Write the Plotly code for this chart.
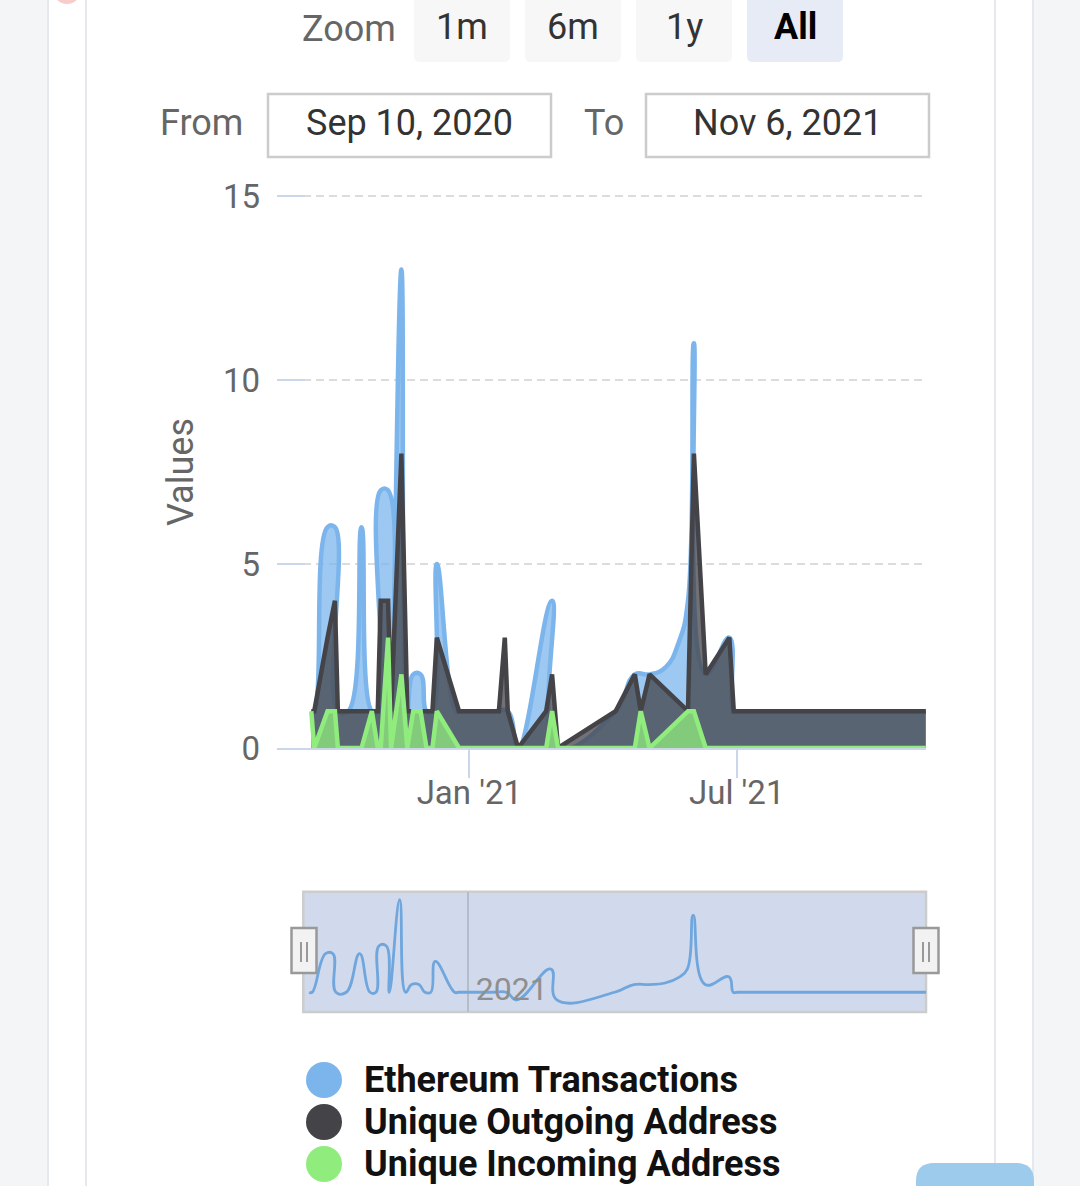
import plotly.graph_objects as go

W, H = 1080, 1186

# outgoing / incoming address counts (straight line areas)
dates = ["2020-09-16", "2020-09-18", "2020-09-27", "2020-10-02", "2020-10-04",
         "2020-10-11", "2020-10-20", "2020-10-27", "2020-10-31", "2020-11-02",
         "2020-11-07", "2020-11-09", "2020-11-16", "2020-11-20", "2020-11-24",
         "2020-11-29", "2020-12-03", "2020-12-07", "2020-12-10", "2020-12-25",
         "2021-01-21", "2021-01-25", "2021-01-27", "2021-02-03", "2021-02-22",
         "2021-02-26", "2021-03-02", "2021-04-10", "2021-04-23", "2021-04-27",
         "2021-05-03", "2021-05-29", "2021-06-02", "2021-06-10", "2021-06-26",
         "2021-06-29", "2021-11-06"]
out_addr = [1, 1, 3, 4, 1, 1, 1, 1, 1, 4, 4, 1, 8, 1, 1, 1, 1, 1, 3, 1,
            1, 3, 1, 0, 1, 2, 0, 1, 2, 1, 2, 1, 8, 2, 3, 1, 1]
in_addr = [1, 0, 1, 1, 0, 0, 0, 1, 0, 0, 3, 0, 2, 0, 1, 1, 0, 0, 1, 0,
           0, 0, 0, 0, 0, 1, 0, 0, 0, 1, 0, 1, 1, 0, 0, 0, 0]

# ethereum transactions (smoothed area)
eth_dates = ["2020-09-16", "2020-09-18", "2020-09-27", "2020-10-02", "2020-10-04",
             "2020-10-11", "2020-10-20", "2020-10-27", "2020-10-31", "2020-11-02",
             "2020-11-07", "2020-11-09", "2020-11-16", "2020-11-20", "2020-11-24",
             "2020-11-29", "2020-12-03", "2020-12-07", "2020-12-10", "2020-12-23",
             "2020-12-26", "2021-01-18", "2021-01-27", "2021-02-03", "2021-02-26",
             "2021-03-02", "2021-04-10", "2021-04-23", "2021-05-03", "2021-05-14",
             "2021-05-23", "2021-05-29", "2021-06-02", "2021-06-10", "2021-06-26",
             "2021-06-29", "2021-07-02", "2021-11-03", "2021-11-06"]
eth_tx = [1, 1, 6, 6, 1, 1, 6, 1, 1, 7, 7, 1, 13, 1, 2, 2, 1, 1, 5, 1,
          1, 1, 1, 0, 4, 0, 1, 2, 2, 2.2, 2.9, 4, 11, 2, 3, 1, 1, 1, 1]

series_names = ["Ethereum Transactions", "Unique Outgoing Address", "Unique Incoming Address"]
series_colors = ["#7cb5ec", "#434348", "#90ed7d"]
fill_colors = ["rgba(124,181,236,0.75)", "rgba(67,67,72,0.75)", "rgba(144,237,125,0.75)"]

zoom_buttons = ["1m", "6m", "1y", "All"]
date_from, date_to = "Sep 10, 2020", "Nov 6, 2021"
y_ticks = [0, 5, 10, 15]
x_tick_vals = ["2021-01-01", "2021-07-01"]
x_tick_text = ["Jan '21", "Jul '21"]

FONT = "Roboto"


def px(x):
    return x / W


def py(y):
    return 1 - y / H


def rounded(x0, y0, x1, y1, r):
    # rounded rect path in paper units (built from pixel coords)
    rx, ry = r / W, r / H
    a, b, c, d = px(x0), py(y0), px(x1), py(y1)
    return (f"M{a + rx},{b} L{c - rx},{b} Q{c},{b} {c},{b - ry} "
            f"L{c},{d + ry} Q{c},{d} {c - rx},{d} L{a + rx},{d} "
            f"Q{a},{d} {a},{d + ry} L{a},{b - ry} Q{a},{b} {a + rx},{b} Z")


fig = go.Figure()

fig.add_trace(go.Scatter(
    x=eth_dates, y=eth_tx, name=series_names[0], mode="lines",
    line=dict(color=series_colors[0], width=4.5, shape="spline", smoothing=1.3),
    fill="tozeroy", fillcolor=fill_colors[0], showlegend=False, hoverinfo="skip"))
for i, vals in [(1, out_addr), (2, in_addr)]:
    fig.add_trace(go.Scatter(
        x=dates, y=vals, name=series_names[i], mode="lines",
        line=dict(color=series_colors[i], width=4.5),
        fill="tozeroy", fillcolor=fill_colors[i], showlegend=False, hoverinfo="skip"))

# navigator
fig.add_trace(go.Scatter(
    x=eth_dates, y=eth_tx, mode="lines", xaxis="x2", yaxis="y2",
    line=dict(color="#6fa6dd", width=2.8, shape="spline", smoothing=1.3),
    showlegend=False, hoverinfo="skip"))

shapes = []
# page card
shapes.append(dict(type="rect", xref="paper", yref="paper", x0=px(48), x1=px(1033),
                   y0=py(1220), y1=py(-20), fillcolor="white", line_width=0, layer="below"))
for xl in [48, 86, 995, 1033]:
    shapes.append(dict(type="line", xref="paper", yref="paper", x0=px(xl), x1=px(xl),
                       y0=py(1220), y1=py(-20), line=dict(color="#e5e9ef", width=2), layer="below"))
shapes.append(dict(type="circle", xref="paper", yref="paper", x0=px(53), x1=px(81),
                   y0=py(4), y1=py(-24), fillcolor="#f9cccc", line_width=0))

# zoom buttons
for i, lab in enumerate(zoom_buttons):
    x0 = 414 + i * 111
    shapes.append(dict(type="path", xref="paper", yref="paper",
                       path=rounded(x0, -10, x0 + 96, 62, 6),
                       fillcolor="#e6ebf5" if lab == "All" else "#f7f7f7", line_width=0))

# date inputs
for x0 in [268, 646]:
    shapes.append(dict(type="rect", xref="paper", yref="paper", x0=px(x0), x1=px(x0 + 283),
                       y0=py(157), y1=py(94), fillcolor="white",
                       line=dict(color="#cccccc", width=2.5)))

# navigator background
shapes.append(dict(type="rect", xref="paper", yref="paper", x0=px(303.3), x1=px(926),
                   y0=py(1012), y1=py(891.7), fillcolor="rgba(102,133,194,0.3)",
                   line=dict(color="#cccccc", width=2.5), layer="below"))
for cx in [304, 926]:
    shapes.append(dict(type="rect", xref="paper", yref="paper", x0=px(cx - 12.5), x1=px(cx + 12.5),
                       y0=py(973), y1=py(928), fillcolor="#f2f2f2",
                       line=dict(color="#999999", width=2.5)))
    for dx in [-3, 3]:
        shapes.append(dict(type="line", xref="paper", yref="paper", x0=px(cx + dx), x1=px(cx + dx),
                           y0=py(962), y1=py(942), line=dict(color="#999999", width=2)))

# legend markers
for i, c in enumerate(series_colors):
    cy = 1080 + i * 42
    shapes.append(dict(type="circle", xref="paper", yref="paper", x0=px(306), x1=px(342),
                       y0=py(cy + 18), y1=py(cy - 18), fillcolor=c, line_width=0))

# bottom-right button stub
shapes.append(dict(type="path", xref="paper", yref="paper",
                   path=rounded(916, 1163, 1034, 1230, 18), fillcolor="#9ccbec", line_width=0))

ann = []
ann.append(dict(text="Zoom", x=px(398), y=py(29.5), xanchor="right", yanchor="middle",
                font=dict(family=FONT, size=36, color="#666666")))
for i, lab in enumerate(zoom_buttons):
    ann.append(dict(text=f"<b>{lab}</b>" if lab == "All" else lab,
                    x=px(462 + i * 111), y=py(27), xanchor="center", yanchor="middle",
                    font=dict(family=FONT, size=36, color="#000000" if lab == "All" else "#333333")))
ann.append(dict(text="From", x=px(245), y=py(123), xanchor="right", yanchor="middle",
                font=dict(family=FONT, size=36, color="#666666")))
ann.append(dict(text="To", x=px(626), y=py(123), xanchor="right", yanchor="middle",
                font=dict(family=FONT, size=36, color="#666666")))
ann.append(dict(text=date_from, x=px(409.5), y=py(122.5), xanchor="center", yanchor="middle",
                font=dict(family=FONT, size=36, color="#333333")))
ann.append(dict(text=date_to, x=px(787.5), y=py(122.5), xanchor="center", yanchor="middle",
                font=dict(family=FONT, size=36, color="#333333")))
ann.append(dict(text="Values", x=px(181), y=py(472), xanchor="center", yanchor="middle",
                textangle=-90, font=dict(family=FONT, size=36, color="#666666")))
for i, name in enumerate(series_names):
    ann.append(dict(text=f"<b>{name}</b>", x=px(362), y=py(1080 + i * 42), xanchor="left",
                    yanchor="middle", font=dict(family=FONT, size=36, color="#111111")))
for a in ann:
    a.update(xref="paper", yref="paper", showarrow=False)

fig.update_layout(
    width=W, height=H,
    margin=dict(l=0, r=0, t=0, b=0, autoexpand=False),
    paper_bgcolor="#f4f5f7",
    plot_bgcolor="rgba(0,0,0,0)",
    font=dict(family=FONT),
    shapes=shapes,
    annotations=ann,
    xaxis=dict(domain=[px(277), px(926)], type="date", automargin=False,
               range=["2020-08-23 19:00", "2021-11-06 03:00"],
               tickvals=x_tick_vals, ticktext=x_tick_text,
               ticks="outside", ticklen=28, tickwidth=2, tickcolor="#ccd6eb",
               ticklabelstandoff=-14,
               showline=True, linecolor="#ccd6eb", linewidth=2,
               showgrid=False, zeroline=False, fixedrange=True,
               tickfont=dict(family=FONT, size=33, color="#666666")),
    yaxis=dict(domain=[py(748), py(192.3)], range=[0, 15.1], automargin=False,
               tickvals=y_ticks, ticks="inside", ticklen=28, tickwidth=2, tickcolor="#ccd6eb",
               showgrid=True, gridcolor="#dcdcdc", gridwidth=2, griddash="8px,5px",
               zeroline=False, showline=False, fixedrange=True, ticklabelstandoff=16,
               tickfont=dict(family=FONT, size=33, color="#666666")),
    xaxis2=dict(domain=[px(303.3), px(926)], type="date", anchor="y2", automargin=False,
                range=["2020-09-12", "2021-11-06"],
                tickvals=["2021-01-01"], ticktext=["2021"], ticks="",
                ticklabelposition="inside right", ticklabelshift=8,
                showgrid=True, gridcolor="#b5bcc9", gridwidth=1.5,
                showline=False, zeroline=False, fixedrange=True,
                tickfont=dict(family=FONT, size=32, color="#8f8f8f")),
    yaxis2=dict(domain=[py(1012), py(891.7)], range=[-1.56, 14.04], anchor="x2",
                visible=False, fixedrange=True, automargin=False),
)

# drop the browser's default body margin so the figure sits at the page origin
fig.write_html("out.html", config={"displayModeBar": False},
               post_script="document.body.style.margin = '0';")
